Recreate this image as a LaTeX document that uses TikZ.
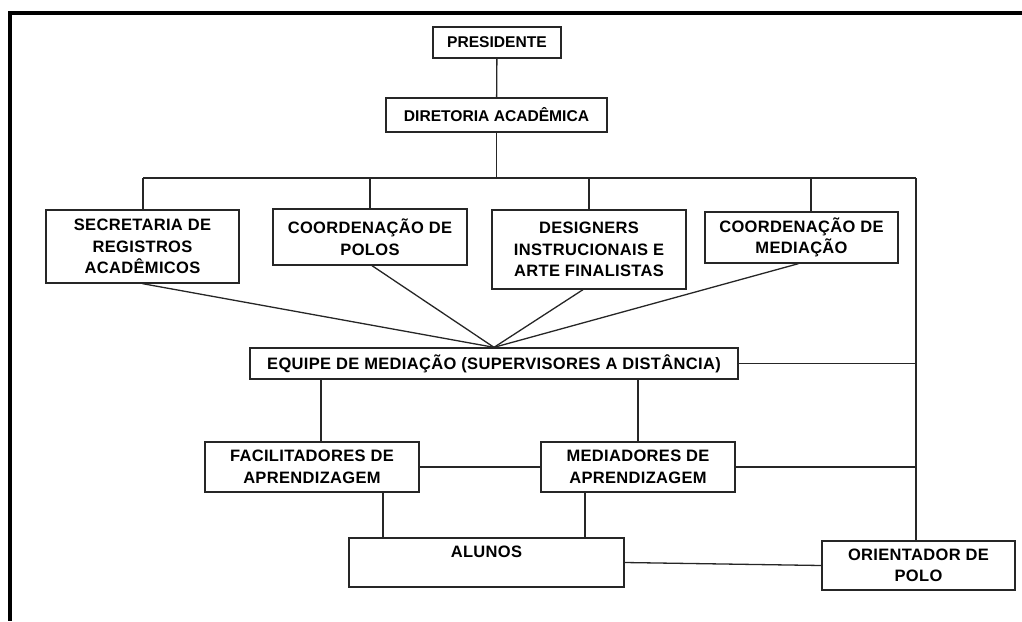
\documentclass[tikz,border=0pt]{standalone}
\usepackage{fontspec}
\setmainfont{Liberation Sans}
\newfontfamily\widesans[LetterSpace=2]{Liberation Sans}
\begin{document}
\begin{tikzpicture}[x=1pt,y=-1pt,
  box/.style={draw=black!85,line width=1.3pt,inner sep=0pt,align=center,
    font=\widesans\fontsize{16.5}{21.5}\selectfont\bfseries},
  tightbox/.style={box,font=\fontsize{15.6}{21.5}\selectfont\bfseries},
  conn/.style={draw=black!85,line width=1.3pt},
  frame/.style={line width=4.5pt,black}]
\useasboundingbox (0,0) rectangle (1022,621);
\draw[frame] (8,13) -- (1022,13);
\draw[frame] (10,11) -- (10,621);
\node[tightbox,minimum width=128,minimum height=31] (pres) at (497,42.5) {PRESIDENTE};
\node[tightbox,minimum width=221,minimum height=34] (dir) at (496.5,115) {DIRETORIA ACADÊMICA};
\node[box,minimum width=193,minimum height=73] (sec) at (142.5,246.5) {SECRETARIA DE\\REGISTROS\\ACADÊMICOS};
\node[box,minimum width=194,minimum height=56] (pol) at (370,237) {COORDENAÇÃO DE\\POLOS};
\node[box,minimum width=194,minimum height=79] (des) at (589,249.5) {DESIGNERS\\INSTRUCIONAIS E\\ARTE FINALISTAS};
\node[box,minimum width=193,minimum height=51] (med) at (801.5,237.5) {COORDENAÇÃO DE\\MEDIAÇÃO};
\node[box,minimum width=488,minimum height=31] (eq) at (494,363.5) {EQUIPE DE MEDIAÇÃO (SUPERVISORES A DISTÂNCIA)};
\node[box,minimum width=214,minimum height=50] (fac) at (312,467) {FACILITADORES DE\\APRENDIZAGEM};
\node[box,minimum width=194,minimum height=50] (mdr) at (638,467) {MEDIADORES DE\\APRENDIZAGEM};
\node[box,minimum width=275,minimum height=49] (alu) at (486.5,562.5) {ALUNOS\\~};
\node[box,minimum width=193,minimum height=49] (ori) at (918.5,565.5) {ORIENTADOR DE\\POLO};
\coordinate (busL) at (143,178);
\coordinate (busR) at (916,178);
\draw[conn] (pres) -- (dir);
\draw[conn] (dir.south) -- (dir.south |- busL);
\draw[conn] (busL) -- (busR);
\draw[conn] (busL) -- (busL |- sec.north);
\draw[conn] (pol.north |- busL) -- (pol.north);
\draw[conn] (des.north |- busL) -- (des.north);
\draw[conn] ([xshift=9.5]med.north |- busL) -- ([xshift=9.5]med.north);
\draw[conn] (busR) -- (busR |- ori.north);
\draw[conn] (sec.south) -- (eq.north);
\draw[conn] ([xshift=2]pol.south) -- (eq.north);
\draw[conn] ([xshift=-6]des.south) -- (eq.north);
\draw[conn] ([xshift=-3]med.south) -- (eq.north);
\draw[conn] (eq.east) -- (eq.east -| busR);
\draw[conn] ([xshift=9]fac.north |- eq.south) -- ([xshift=9]fac.north);
\draw[conn] (mdr.north |- eq.south) -- (mdr.north);
\draw[conn] (fac.east) -- (mdr.west);
\draw[conn] (mdr.east) -- (mdr.east -| busR);
\draw[conn] ([xshift=71]fac.south) -- ([xshift=71]fac.south |- alu.north);
\draw[conn] ([xshift=-53]mdr.south) -- ([xshift=-53]mdr.south |- alu.north);
\draw[conn] (alu.east) -- (ori.west);
\end{tikzpicture}
\end{document}
